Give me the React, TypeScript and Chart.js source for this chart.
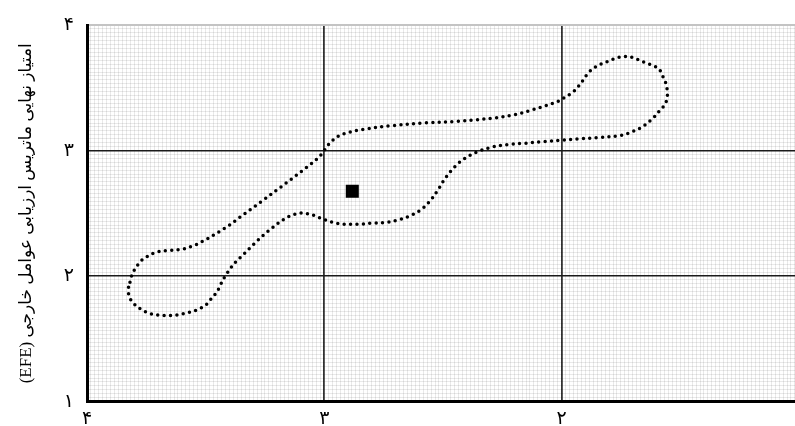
import React, { useEffect, useRef } from 'react';
import { Chart, registerables } from 'chart.js';

Chart.register(...registerables);

// ---- data ----
const tickValues = [1, 2, 3, 4];
const tickLabels = ['۱', '۲', '۳', '۴'];
const yTitle = 'امتیاز نهایی ماتریس ارزیابی عوامل خارجی (EFE)';

// closed dotted contour (x = IFE score, y = EFE score)
const loopX = [
  3.825, 3.825, 3.816, 3.797, 3.775, 3.750, 3.725, 3.697, 3.668, 3.639, 3.611, 3.584, 3.557, 3.530,
  3.507, 3.490, 3.475, 3.456, 3.442, 3.431, 3.417, 3.400, 3.384, 3.366, 3.345, 3.324, 3.305, 3.286,
  3.265, 3.244, 3.221, 3.200, 3.177, 3.153, 3.128, 3.100, 3.073, 3.045, 3.020, 2.994, 2.967, 2.939,
  2.911, 2.883, 2.855, 2.800, 2.743, 2.688, 2.634, 2.590, 2.551, 2.520, 2.489, 2.450, 2.411, 2.359,
  2.296, 2.226, 2.156, 2.073, 2.000, 1.933, 1.849, 1.751, 1.698, 1.653, 1.607, 1.588, 1.569, 1.557,
  1.554, 1.557, 1.565, 1.577, 1.590, 1.616, 1.642, 1.667, 1.693, 1.719, 1.744, 1.772, 1.800, 1.825,
  1.849, 1.874, 1.894, 1.909, 1.926, 1.944, 1.964, 1.992, 2.017, 2.066, 2.122, 2.198, 2.282, 2.366,
  2.436, 2.576, 2.716, 2.842, 2.897, 2.924, 2.948, 2.970, 2.988, 3.005, 3.022, 3.043, 3.064, 3.086,
  3.108, 3.131, 3.153, 3.177, 3.268, 3.309, 3.356, 3.400, 3.447, 3.496, 3.546, 3.599, 3.655, 3.711,
  3.760, 3.779, 3.796, 3.810, 3.817, 3.825,
];
const loopY = [
  1.910, 1.860, 1.812, 1.770, 1.738, 1.712, 1.696, 1.688, 1.685, 1.688, 1.693, 1.704, 1.717, 1.736,
  1.760, 1.786, 1.823, 1.865, 1.910, 1.955, 2.002, 2.048, 2.090, 2.127, 2.164, 2.204, 2.240, 2.275,
  2.312, 2.347, 2.381, 2.413, 2.444, 2.471, 2.490, 2.502, 2.498, 2.484, 2.464, 2.447, 2.429, 2.418,
  2.413, 2.413, 2.413, 2.421, 2.427, 2.447, 2.484, 2.532, 2.606, 2.690, 2.783, 2.871, 2.934, 2.987,
  3.026, 3.048, 3.058, 3.071, 3.082, 3.093, 3.103, 3.121, 3.153, 3.198, 3.272, 3.315, 3.355, 3.402,
  3.452, 3.506, 3.558, 3.603, 3.651, 3.677, 3.696, 3.714, 3.736, 3.748, 3.746, 3.736, 3.714, 3.696,
  3.675, 3.643, 3.603, 3.561, 3.518, 3.479, 3.450, 3.418, 3.391, 3.357, 3.325, 3.286, 3.260, 3.244,
  3.233, 3.220, 3.198, 3.167, 3.145, 3.129, 3.106, 3.071, 3.034, 2.987, 2.950, 2.913, 2.881, 2.849,
  2.817, 2.783, 2.752, 2.717, 2.590, 2.532, 2.468, 2.405, 2.349, 2.294, 2.246, 2.214, 2.204, 2.188,
  2.140, 2.106, 2.061, 2.013, 1.963, 1.910,
];

const pointX = [2.882];
const pointY = [2.675];

const xMinorStep = 1 / 60;
const yMinorStep = 1 / 32;

const isInt = (v: number) => Math.abs(v - Math.round(v)) < 1e-6;
const labelFor = (v: number) => {
  if (!isInt(v)) return '';
  const i = tickValues.indexOf(Math.round(v));
  return i >= 0 ? tickLabels[i] : '';
};

const FONT = "'Liberation Serif', 'DejaVu Sans', serif";
const MINOR = 'rgba(0,0,0,0.085)';

export default function App() {
  const ref = useRef<HTMLCanvasElement | null>(null);

  useEffect(() => {
    if (!ref.current) return;
    const chart = new Chart(ref.current, {
      type: 'scatter',
      data: {
        datasets: [
          {
            data: loopX.map((x, i) => ({ x, y: loopY[i] })),
            showLine: true,
            tension: 0.35,
            pointRadius: 0,
            borderColor: '#000',
            borderWidth: 3.5,
            borderDash: [0, 6.4],
            borderCapStyle: 'round',
            fill: false,
          },
          {
            data: pointX.map((x, i) => ({ x, y: pointY[i] })),
            pointStyle: 'rect',
            pointRadius: 9.2,
            backgroundColor: '#000',
            borderColor: '#000',
            borderWidth: 0,
          },
        ],
      },
      options: {
        animation: false,
        responsive: false,
        devicePixelRatio: 1,
        layout: { padding: { top: 25, right: 7.5, left: 0, bottom: 0 } },
        plugins: { legend: { display: false }, tooltip: { enabled: false } },
        events: [],
        scales: {
          x: {
            type: 'linear',
            reverse: true,
            min: 1,
            max: 4,
            afterFit: (s: any) => { s.height = 23; },
            border: { display: true, color: '#000', width: 3 },
            grid: {
              drawTicks: false,
              color: (c: any) => {
                const v = c.tick ? c.tick.value : 0;
                return isInt(v) ? '#333' : MINOR;
              },
              lineWidth: (c: any) => {
                const v = c.tick ? c.tick.value : 0;
                return isInt(v) ? 1.8 : 1;
              },
            },
            ticks: {
              stepSize: xMinorStep,
              autoSkip: false,
              maxRotation: 0,
              minRotation: 0,
              padding: 6,
              color: '#000',
              font: { family: FONT, size: 19 },
              callback: (v: any) => labelFor(Number(v)),
            },
          },
          y: {
            type: 'linear',
            min: 1,
            max: 4,
            afterFit: (s: any) => { s.width = 87; },
            border: { display: true, color: '#000', width: 3 },
            grid: {
              drawTicks: false,
              color: (c: any) => {
                const v = c.tick ? c.tick.value : 0;
                if (isInt(v)) return Math.round(v) === 4 ? '#c4c4c4' : '#1a1a1a';
                return MINOR;
              },
              lineWidth: (c: any) => {
                const v = c.tick ? c.tick.value : 0;
                if (isInt(v)) return Math.round(v) === 4 ? 2 : 1.5;
                return 1;
              },
            },
            ticks: {
              stepSize: yMinorStep,
              autoSkip: false,
              padding: 13,
              color: '#000',
              font: { family: FONT, size: 19 },
              callback: (v: any) => labelFor(Number(v)),
            },
            title: {
              display: true,
              text: yTitle,
              color: '#000',
              font: { family: FONT, size: 17 },
              padding: { top: 16, bottom: 0 },
            },
          },
        },
      },
    } as any);
    return () => chart.destroy();
  }, []);

  return (
    <div
      style={{
        position: 'fixed',
        left: 0,
        top: 0,
        width: 795,
        height: 426,
        overflow: 'hidden',
        background: '#fff',
      }}
    >
      <canvas
        ref={ref}
        width={810}
        height={426}
        style={{ display: 'block', width: 810, height: 426, direction: 'rtl' }}
      />
    </div>
  );
}
